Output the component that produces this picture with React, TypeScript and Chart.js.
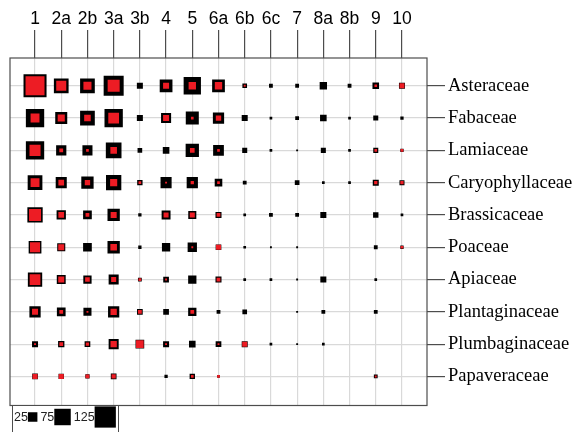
import React, { useEffect, useRef } from "react";
import { Chart, registerables } from "chart.js";

Chart.register(...registerables);

const COLUMNS = ["1", "2a", "2b", "3a", "3b", "4", "5", "6a", "6b", "6c", "7", "8a", "8b", "9", "10"];
const FAMILIES = [
  "Asteraceae",
  "Fabaceae",
  "Lamiaceae",
  "Caryophyllaceae",
  "Brassicaceae",
  "Poaceae",
  "Apiaceae",
  "Plantaginaceae",
  "Plumbaginaceae",
  "Papaveraceae",
];

// total (black) and red values per family, one value per column
const ASTERACEAE_TOTAL = [147, 60, 60, 111, 10, 45, 83, 45, 6, 4, 4, 15, 4, 12, 10];
const ASTERACEAE_RED = [100, 28, 18, 40, 0, 10, 15, 15, 1, 0, 0, 0, 0, 2, 7];
const FABACEAE_TOTAL = [93, 40, 60, 93, 10, 28, 47, 35, 10, 2, 4, 12, 2, 7, 3];
const FABACEAE_RED = [22, 14, 12, 32, 0, 10, 2, 8, 0, 0, 0, 0, 0, 0, 0];
const LAMIACEAE_TOTAL = [93, 29, 28, 68, 6, 12, 49, 32, 7, 2, 1, 7, 2, 7, 3];
const LAMIACEAE_RED = [34, 4, 2, 12, 0, 0, 6, 2, 0, 0, 0, 0, 0, 2, 2];
const CARYOPHYLLACEAE_TOTAL = [60, 34, 42, 65, 8, 34, 35, 16, 4, 0, 6, 2, 2, 10, 7];
const CARYOPHYLLACEAE_RED = [22, 9, 8, 14, 2, 1, 3, 2, 0, 0, 0, 0, 0, 3, 3];
const BRASSICACEAE_TOTAL = [65, 24, 21, 42, 3, 22, 18, 10, 2, 4, 4, 10, 0, 8, 2];
const BRASSICACEAE_RED = [40, 9, 4, 10, 0, 7, 7, 4, 0, 0, 0, 0, 0, 0, 0];
const POACEAE_TOTAL = [45, 18, 21, 42, 3, 19, 24, 9, 2, 1, 1, 0, 0, 4, 3];
const POACEAE_RED = [28, 10, 0, 12, 0, 0, 1, 7, 0, 0, 0, 0, 0, 0, 2];
const APIACEAE_TOTAL = [57, 22, 19, 28, 4, 9, 19, 10, 2, 2, 1, 10, 0, 2, 0];
const APIACEAE_RED = [32, 10, 6, 7, 2, 1, 0, 4, 0, 0, 0, 0, 0, 0, 0];
const PLANTAGINACEAE_TOTAL = [35, 21, 18, 35, 9, 9, 19, 4, 6, 0, 1, 4, 0, 4, 0];
const PLANTAGINACEAE_RED = [10, 4, 1, 11, 4, 0, 4, 0, 0, 0, 0, 0, 0, 0, 0];
const PLUMBAGINACEAE_TOTAL = [10, 11, 9, 28, 21, 10, 12, 9, 10, 2, 1, 2, 0, 0, 0];
const PLUMBAGINACEAE_RED = [1, 4, 3, 11, 16, 1, 0, 1, 7, 0, 0, 0, 0, 0, 0];
const PAPAVERACEAE_TOTAL = [9, 8, 5, 9, 0, 3, 8, 2, 0, 0, 0, 0, 0, 4, 0];
const PAPAVERACEAE_RED = [7, 7, 4, 5, 0, 0, 2, 2, 0, 0, 0, 0, 0, 1, 0];

const LEGEND_VALUES = [25, 75, 125];

const TOTALS = [
  ASTERACEAE_TOTAL,
  FABACEAE_TOTAL,
  LAMIACEAE_TOTAL,
  CARYOPHYLLACEAE_TOTAL,
  BRASSICACEAE_TOTAL,
  POACEAE_TOTAL,
  APIACEAE_TOTAL,
  PLANTAGINACEAE_TOTAL,
  PLUMBAGINACEAE_TOTAL,
  PAPAVERACEAE_TOTAL,
];
const REDS = [
  ASTERACEAE_RED,
  FABACEAE_RED,
  LAMIACEAE_RED,
  CARYOPHYLLACEAE_RED,
  BRASSICACEAE_RED,
  POACEAE_RED,
  APIACEAE_RED,
  PLANTAGINACEAE_RED,
  PLUMBAGINACEAE_RED,
  PAPAVERACEAE_RED,
];

const SIZE_K = 1.9; // square side (px) per sqrt(value)
const side = (v: number) => SIZE_K * Math.sqrt(Math.max(v, 0));

const RED = "#ED1C24";
const FRAME = "#4d4d4d";
const GRID = "#d9d9d9";
const SANS = "'Liberation Sans', Arial, sans-serif";
const SERIF = "'Liberation Serif', 'Times New Roman', serif";

function toPoints(rows: number[][]) {
  const pts: { x: number; y: number; v: number }[] = [];
  rows.forEach((row, r) => {
    row.forEach((v, c) => {
      if (v > 0) pts.push({ x: c, y: r, v });
    });
  });
  return pts;
}

const framePlugin = {
  id: "frameAndLegend",
  afterDraw(chart: any) {
    const { ctx, chartArea } = chart;
    ctx.save();
    ctx.strokeStyle = FRAME;
    ctx.lineWidth = 1.2;
    ctx.strokeRect(chartArea.left, chartArea.top, chartArea.right - chartArea.left, chartArea.bottom - chartArea.top);

    // size legend box
    const bx = 12;
    const by = 405;
    const bw = 106;
    ctx.fillStyle = "#ffffff";
    ctx.fillRect(bx, by, bw, 40);
    ctx.strokeStyle = FRAME;
    ctx.lineWidth = 1;
    ctx.strokeRect(bx + 0.5, by + 0.5, bw, 40);

    ctx.font = `12.5px ${SANS}`;
    ctx.textBaseline = "middle";
    ctx.textAlign = "left";
    const cy = 417;
    let x = 14;
    LEGEND_VALUES.forEach((v) => {
      const label = String(v);
      ctx.fillStyle = "#222";
      ctx.fillText(label, x, cy + 1);
      x += ctx.measureText(label).width;
      const s = side(v);
      ctx.fillStyle = "#000";
      ctx.fillRect(x, cy - s / 2, s, s);
      x += s + 3;
    });
    ctx.restore();
  },
};

export default function App() {
  const ref = useRef<HTMLCanvasElement | null>(null);

  useEffect(() => {
    if (!ref.current) return;
    const radius = (c: any) => {
      const raw = c.raw as { v: number } | undefined;
      return raw ? side(raw.v) / Math.SQRT2 : 0;
    };
    const chart = new Chart(ref.current, {
      type: "scatter",
      data: {
        datasets: [
          {
            label: "red",
            data: toPoints(REDS),
            pointStyle: "rect",
            backgroundColor: RED,
            pointBackgroundColor: RED,
            borderWidth: 0,
            pointBorderWidth: 0,
            pointRadius: radius,
            pointHoverRadius: radius,
          },
          {
            label: "total",
            data: toPoints(TOTALS),
            pointStyle: "rect",
            backgroundColor: "#000000",
            pointBackgroundColor: "#000000",
            borderWidth: 0,
            pointBorderWidth: 0,
            pointRadius: radius,
            pointHoverRadius: radius,
          },
        ],
      },
      options: {
        responsive: false,
        animation: false,
        events: [],
        layout: { autoPadding: false, padding: { left: 10, top: 0, right: 0, bottom: 26.5 } },
        plugins: {
          legend: { display: false },
          tooltip: { enabled: false },
        },
        scales: {
          x: {
            type: "linear",
            position: "top",
            min: -0.955,
            max: 14.955,
            afterBuildTicks: (s: any) => {
              s.ticks = COLUMNS.map((_, i) => ({ value: i }));
            },
            afterFit: (s: any) => {
              s.height = 58;
            },
            grid: {
              color: GRID,
              lineWidth: 1.2,
              tickColor: FRAME,
              tickLength: 28,
              tickWidth: 1.2,
            },
            border: { display: false },
            ticks: {
              autoSkip: false,
              maxRotation: 0,
              padding: 0,
              color: "#000",
              font: { family: SANS, size: 17.5 },
              callback: (v: any) => COLUMNS[v as number] ?? "",
            },
          },
          y: {
            type: "linear",
            position: "right",
            reverse: true,
            min: -0.86,
            max: 9.9,
            afterBuildTicks: (s: any) => {
              s.ticks = FAMILIES.map((_, i) => ({ value: i }));
            },
            afterFit: (s: any) => {
              s.width = 152;
            },
            grid: {
              color: GRID,
              lineWidth: 1.2,
              tickColor: FRAME,
              tickLength: 18,
              tickWidth: 1.2,
            },
            border: { display: false },
            ticks: {
              autoSkip: false,
              padding: 3,
              color: "#000",
              font: { family: SERIF, size: 18.5 },
              callback: (v: any) => FAMILIES[v as number] ?? "",
            },
          },
        },
      },
      plugins: [framePlugin],
    });
    return () => chart.destroy();
  }, []);

  return (
    <div style={{ position: "absolute", left: 0, top: 0, width: 579, height: 432, background: "#fff" }}>
      <canvas ref={ref} width={579} height={432} />
    </div>
  );
}
